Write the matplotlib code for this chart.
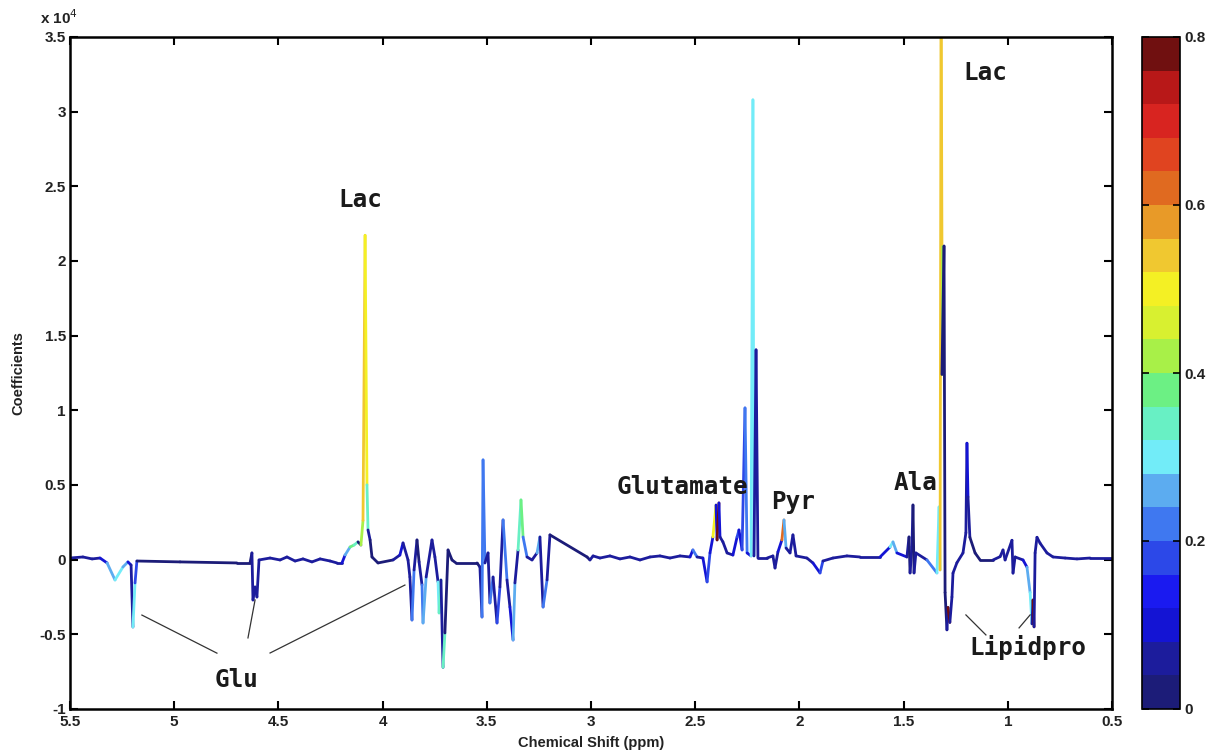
import numpy as np
import matplotlib
matplotlib.use('Agg')
import matplotlib.pyplot as plt
from matplotlib.collections import LineCollection
from matplotlib.colors import BoundaryNorm, ListedColormap
from matplotlib.cm import ScalarMappable
import matplotlib.ticker as mticker

# ---- data (ppm, coefficient in units of 1e4, correlation) ----
ppm = [5.500, 5.438, 5.394, 5.356, 5.322, 5.284, 5.246, 5.222, 5.207, 5.198,
       5.188, 5.179, 4.972, 4.699, 4.636, 4.627, 4.622, 4.612, 4.603, 4.593,
       4.540, 4.492, 4.459, 4.420, 4.382, 4.339, 4.300, 4.252, 4.219, 4.195,
       4.180, 4.156, 4.137, 4.118, 4.104, 4.094, 4.084, 4.075, 4.070, 4.060,
       4.051, 4.022, 3.950, 3.917, 3.902, 3.878, 3.869, 3.859, 3.849, 3.835,
       3.825, 3.811, 3.806, 3.791, 3.763, 3.749, 3.734, 3.729, 3.720, 3.710,
       3.701, 3.686, 3.667, 3.648, 3.547, 3.533, 3.523, 3.518, 3.509, 3.494,
       3.485, 3.470, 3.451, 3.437, 3.422, 3.403, 3.389, 3.374, 3.365, 3.350,
       3.336, 3.326, 3.307, 3.283, 3.259, 3.245, 3.230, 3.211, 3.197, 3.019,
       3.005, 2.990, 2.957, 2.909, 2.861, 2.813, 2.765, 2.717, 2.669, 2.621,
       2.573, 2.525, 2.511, 2.491, 2.463, 2.443, 2.429, 2.415, 2.400, 2.395,
       2.386, 2.381, 2.367, 2.347, 2.319, 2.299, 2.290, 2.275, 2.261, 2.251,
       2.232, 2.223, 2.218, 2.208, 2.199, 2.155, 2.127, 2.117, 2.103, 2.084,
       2.074, 2.064, 2.045, 2.031, 2.016, 1.964, 1.935, 1.901, 1.887, 1.839,
       1.772, 1.709, 1.613, 1.565, 1.551, 1.532, 1.484, 1.474, 1.469, 1.460,
       1.455, 1.450, 1.441, 1.388, 1.340, 1.330, 1.325, 1.320, 1.316, 1.316,
       1.306, 1.301, 1.292, 1.287, 1.278, 1.268, 1.263, 1.244, 1.215, 1.201,
       1.196, 1.191, 1.182, 1.157, 1.133, 1.071, 1.037, 1.023, 1.013, 0.980,
       0.975, 0.965, 0.927, 0.908, 0.893, 0.884, 0.879, 0.874, 0.869, 0.860,
       0.845, 0.812, 0.783, 0.725, 0.668, 0.605, 0.500]

coef_e4 = [0.011, 0.018, 0.005, 0.011, -0.022, -0.136, -0.049, -0.015, -0.036, -0.451,
           -0.156, -0.009, -0.015, -0.022, -0.022, 0.045, -0.270, -0.183, -0.250, -0.002,
           0.011, -0.002, 0.018, -0.009, 0.005, -0.015, 0.005, -0.009, -0.022, -0.022,
           0.031, 0.085, 0.098, 0.119, 0.098, 0.263, 2.172, 0.501, 0.199, 0.132,
           0.018, -0.022, -0.002, 0.031, 0.112, -0.002, -0.116, -0.404, -0.069, 0.132,
           -0.015, -0.169, -0.424, -0.116, 0.132, 0.018, -0.149, -0.357, -0.136, -0.721,
           -0.491, 0.065, -0.002, -0.022, -0.022, -0.049, -0.384, 0.668, -0.022, 0.045,
           -0.290, -0.116, -0.424, -0.183, 0.266, -0.136, -0.317, -0.538, -0.156, 0.065,
           0.400, 0.152, 0.018, -0.002, 0.045, 0.152, -0.317, -0.136, 0.166, 0.018,
           -0.002, 0.025, 0.011, 0.025, 0.005, 0.018, -0.002, 0.018, 0.025, 0.011,
           0.025, 0.018, 0.065, 0.018, 0.011, -0.149, 0.045, 0.152, 0.366, 0.132,
           0.380, 0.152, 0.119, 0.045, 0.031, 0.152, 0.199, 0.065, 1.016, 0.045,
           0.025, 3.079, 0.025, 1.405, 0.011, 0.011, 0.025, -0.056, 0.052, 0.132,
           0.266, 0.078, 0.045, 0.166, 0.025, 0.011, -0.022, -0.089, -0.009, 0.011,
           0.025, 0.018, 0.018, 0.085, 0.119, 0.045, 0.018, 0.152, -0.089, 0.085,
           0.366, -0.089, 0.045, -0.002, -0.089, 0.353, -0.069, 3.900, 2.100, 1.240,
           2.100, -0.220, -0.470, -0.320, -0.420, -0.250, -0.090, -0.020, 0.045, 0.180,
           0.780, 0.420, 0.150, 0.045, -0.002, -0.002, 0.020, 0.065, -0.002, 0.130,
           -0.090, 0.018, -0.002, -0.050, -0.220, -0.430, -0.270, -0.450, 0.045, 0.150,
           0.110, 0.045, 0.018, 0.011, 0.005, 0.011, 0.011]

corr = [0.05, 0.05, 0.07, 0.10, 0.25, 0.28, 0.25, 0.10, 0.07, 0.30,
        0.18, 0.02, 0.02, 0.02, 0.02, 0.05, 0.07, 0.05, 0.07, 0.05,
        0.05, 0.05, 0.05, 0.07, 0.05, 0.05, 0.05, 0.05, 0.07, 0.10,
        0.25, 0.38, 0.35, 0.02, 0.42, 0.52, 0.50, 0.32, 0.05, 0.02,
        0.02, 0.02, 0.05, 0.10, 0.05, 0.05, 0.07, 0.22, 0.05, 0.02,
        0.05, 0.20, 0.25, 0.07, 0.05, 0.05, 0.30, 0.32, 0.07, 0.32,
        0.02, 0.02, 0.02, 0.02, 0.02, 0.05, 0.22, 0.20, 0.05, 0.05,
        0.20, 0.05, 0.18, 0.07, 0.22, 0.07, 0.10, 0.25, 0.05, 0.35,
        0.38, 0.20, 0.05, 0.05, 0.25, 0.07, 0.20, 0.05, 0.02, 0.02,
        0.05, 0.05, 0.05, 0.07, 0.05, 0.07, 0.05, 0.07, 0.05, 0.07,
        0.05, 0.10, 0.20, 0.05, 0.10, 0.18, 0.10, 0.50, 0.10, 0.78,
        0.10, 0.05, 0.07, 0.05, 0.10, 0.18, 0.10, 0.18, 0.22, 0.10,
        0.30, 0.30, 0.07, 0.05, 0.05, 0.05, 0.07, 0.05, 0.10, 0.62,
        0.25, 0.07, 0.05, 0.05, 0.05, 0.05, 0.10, 0.18, 0.05, 0.05,
        0.05, 0.05, 0.10, 0.28, 0.25, 0.10, 0.05, 0.02, 0.05, 0.07,
        0.02, 0.05, 0.07, 0.20, 0.28, 0.28, 0.52, 0.52, 0.42, 0.02,
        0.02, 0.02, 0.05, 0.78, 0.05, 0.05, 0.05, 0.05, 0.05, 0.05,
        0.10, 0.05, 0.02, 0.02, 0.02, 0.05, 0.07, 0.05, 0.05, 0.05,
        0.05, 0.05, 0.10, 0.25, 0.28, 0.05, 0.78, 0.05, 0.07, 0.05,
        0.05, 0.05, 0.05, 0.05, 0.05, 0.05, 0.05]

# annotation labels (position in ppm, coefficient/1e4)
label_text = ['Lac', 'Lac', 'Glutamate', 'Pyr', 'Ala', 'Glu', 'Lipidpro']
label_ppm = [4.108, 1.109, 2.563, 2.031, 1.445, 4.703, 0.903]
label_val = [2.41, 3.26, 0.487, 0.387, 0.514, -0.806, -0.59]

# leader lines: (ppm0, val0, ppm1, val1)
leader_lines = [(5.155, -0.371, 4.795, -0.626),
                (4.646, -0.524, 4.612, -0.270),
                (4.540, -0.625, 3.893, -0.170),
                (1.201, -0.370, 1.105, -0.504),
                (0.946, -0.457, 0.893, -0.370)]

x_ticks = [5.5, 5, 4.5, 4, 3.5, 3, 2.5, 2, 1.5, 1, 0.5]
y_ticks_e4 = [-1, -0.5, 0, 0.5, 1, 1.5, 2, 2.5, 3, 3.5]
cbar_ticks = [0, 0.2, 0.4, 0.6, 0.8]

# discrete colour bands of the colour bar (low -> high)
band_colors = ['#1c1c78', '#1c1c9c', '#1414d4', '#1a1af0', '#2c48e8',
               '#3f78f0', '#5cacf0', '#72ecf8', '#68f0c4', '#6cf084',
               '#a8f048', '#d8f030', '#f4f024', '#f0c830', '#e89a28',
               '#e06a20', '#e04420', '#d82420', '#b81818', '#701010']

# ---- figure ----
W, H = 1219, 753
fig = plt.figure(figsize=(W / 100, H / 100), dpi=100)
ax = fig.add_axes([70 / W, 1 - 709 / H, (1112 - 70) / W, (709 - 37) / H])
cax = fig.add_axes([1142 / W, 1 - 709 / H, (1180 - 1142) / W, (709 - 37) / H])

lab_font = dict(family='DejaVu Sans Mono', weight='bold', size=17.5)

cmap = ListedColormap(band_colors)
bounds = np.linspace(0, 0.8, len(band_colors) + 1)
norm = BoundaryNorm(bounds, cmap.N)

x = np.asarray(ppm)
y = np.asarray(coef_e4) * 1e4
pts = np.column_stack([x, y])
segs = np.stack([pts[:-1], pts[1:]], axis=1)
lc = LineCollection(segs, cmap=cmap, norm=norm, linewidths=2.0,
                    capstyle='round', joinstyle='round')
lc.set_array(np.asarray(corr[:-1]))
ax.add_collection(lc)

ax.set_xlim(5.5, 0.5)
ax.set_ylim(-1e4, 3.5e4)
ax.set_xticks(x_ticks)
ax.set_yticks([v * 1e4 for v in y_ticks_e4])
ax.xaxis.set_major_formatter(mticker.FuncFormatter(lambda v, p: ('%g' % v)))
ax.yaxis.set_major_formatter(mticker.FuncFormatter(lambda v, p: ('%g' % (v / 1e4))))
ax.tick_params(direction='in', length=6, width=1.5, top=True, right=True)
ax.tick_params(axis='x', pad=4)
ax.tick_params(axis='y', pad=3)
for lbl in ax.get_xticklabels() + ax.get_yticklabels():
    lbl.set_fontfamily('Liberation Sans')
    lbl.set_fontweight('bold')
    lbl.set_fontsize(11)
    lbl.set_color('#222222')
for s in ax.spines.values():
    s.set_linewidth(1.8)

ax.set_xlabel('Chemical Shift (ppm)', fontdict=dict(family='Liberation Sans', weight='bold', size=10.5),
              labelpad=5, color='#222222')
ax.set_ylabel('Coefficients', fontdict=dict(family='Liberation Sans', weight='bold', size=10.5),
              labelpad=10, color='#222222')
fig.text(40 / W, 1 - 24 / H, r'x 10$^{4}$', family='Liberation Sans', weight='bold', size=11,
         color='#222222', ha='left', va='baseline')

for t, lx, ly in zip(label_text, label_ppm, label_val):
    ax.text(lx, ly * 1e4, t, ha='center', va='center', color='#1a1a1a', **lab_font)

for (a0, b0, a1, b1) in leader_lines:
    ax.plot([a0, a1], [b0 * 1e4, b1 * 1e4], color='#333333', lw=0.9)

sm = ScalarMappable(norm=norm, cmap=cmap)
cb = fig.colorbar(sm, cax=cax, ticks=cbar_ticks, boundaries=bounds)
cb.outline.set_linewidth(1.2)
cb.ax.minorticks_off()
cb.ax.tick_params(which='major', direction='in', length=5, width=1.2, left=True, right=True, pad=3)
cb.ax.yaxis.set_major_formatter(mticker.FuncFormatter(lambda v, p: ('%g' % v)))
for lbl in cb.ax.get_yticklabels():
    lbl.set_fontfamily('Liberation Sans')
    lbl.set_fontweight('bold')
    lbl.set_fontsize(11)
    lbl.set_color('#222222')

fig.savefig('out.png', dpi=100)
